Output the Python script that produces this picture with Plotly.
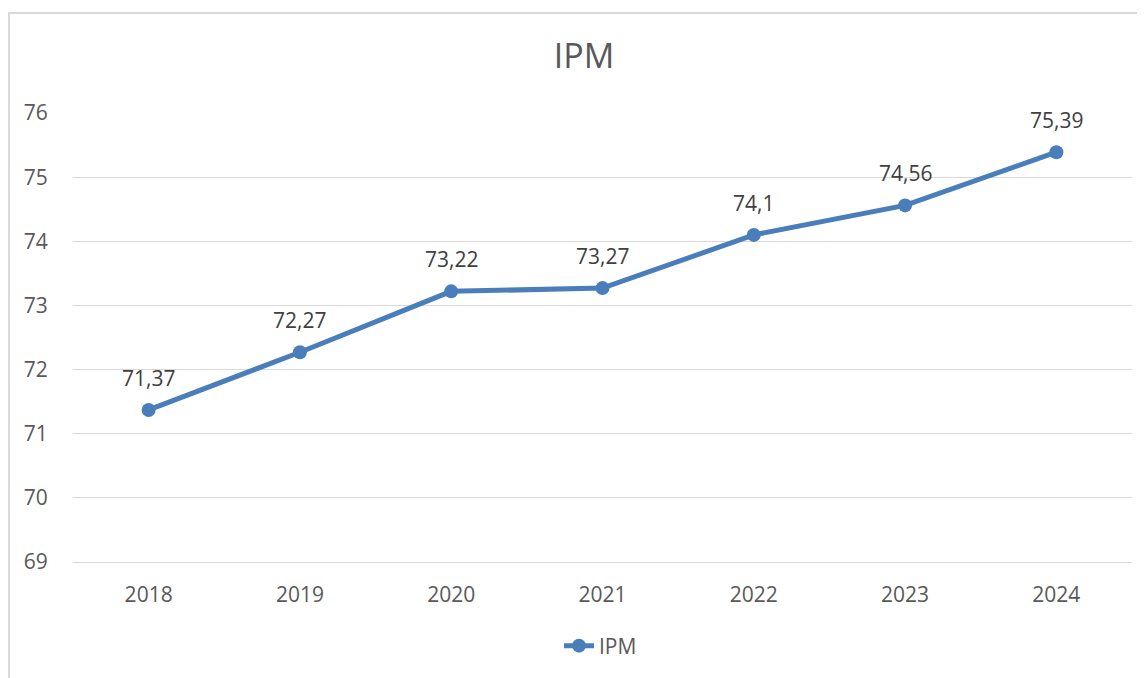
import plotly.graph_objects as go

years = ["2018", "2019", "2020", "2021", "2022", "2023", "2024"]
ipm = [71.37, 72.27, 73.22, 73.27, 74.1, 74.56, 75.39]
y_ticks = [69, 70, 71, 72, 73, 74, 75, 76]

labels = [str(v).replace(".", ",") for v in ipm]

FONT = "Open Sans"
LINE_COLOR = "#4a7ebb"
GRID = "#d9d9d9"

fig = go.Figure()
fig.add_trace(go.Scatter(
    x=years, y=ipm, mode="lines+markers", name="IPM",
    line=dict(color=LINE_COLOR, width=5),
    marker=dict(color=LINE_COLOR, size=14),
))

for i, (y, t) in enumerate(zip(ipm, labels)):
    fig.add_annotation(x=i, y=y, xref="x", yref="y", text=t, showarrow=False, yshift=32,
                       font=dict(family=FONT, size=21, color="#404040"))

# page has an 8px body margin; figure coords = page coords - 8
OFF = 8
W, H = 1137, 670
L, R, T, B = 65, 13, 105, 116
pw, ph = W - L - R, H - T - B

def px_x(p):
    return (p - OFF - L) / pw

def px_y(p):
    return (H - B - (p - OFF)) / ph

# chart border (top and left visible)
fig.add_shape(type="line", xref="paper", yref="paper",
              x0=px_x(8), x1=px_x(1150), y0=px_y(13), y1=px_y(13),
              line=dict(color=GRID, width=2))
fig.add_shape(type="line", xref="paper", yref="paper",
              x0=px_x(9), x1=px_x(9), y0=px_y(13), y1=px_y(690),
              line=dict(color=GRID, width=2))

fig.update_layout(
    width=W, height=H,
    margin=dict(l=L, r=R, t=T, b=B),
    paper_bgcolor="white", plot_bgcolor="white",
    font=dict(family=FONT, color="#595959"),
    title=dict(text="IPM", x=(584 - OFF) / W, xanchor="center", y=1 - (56 - OFF) / H, yanchor="middle",
               font=dict(family=FONT, size=34, color="#595959")),
    showlegend=True,
    legend=dict(orientation="h", x=px_x(559), xanchor="left", y=px_y(646), yanchor="middle",
                font=dict(family=FONT, size=21, color="#595959"), bgcolor="rgba(0,0,0,0)"),
    xaxis=dict(type="category", range=[-0.5, 6.5], showgrid=False,
               showline=True, linecolor=GRID, linewidth=1,
               ticks="outside", ticklen=14, tickcolor="rgba(0,0,0,0)",
               tickfont=dict(family=FONT, size=21, color="#595959")),
    yaxis=dict(range=[68.999, 76.001], tickvals=y_ticks, showgrid=True, gridcolor=GRID, gridwidth=1,
               zeroline=False, showline=False,
               ticks="outside", ticklen=20, tickcolor="rgba(0,0,0,0)",
               tickfont=dict(family=FONT, size=21, color="#595959")),
)

fig.write_html("out.html")
